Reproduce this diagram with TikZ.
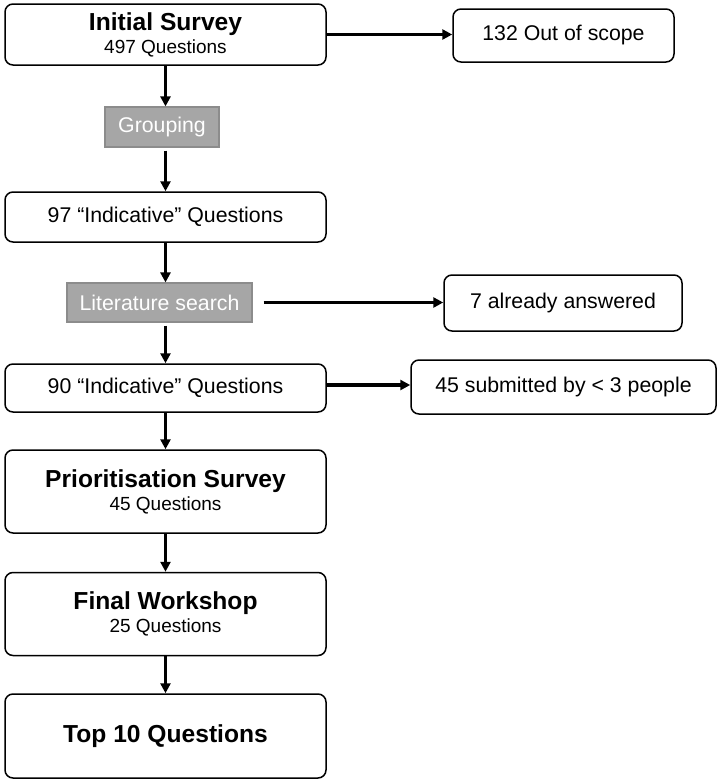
\documentclass[tikz,border=0pt]{standalone}
\usepackage{fontspec}
\setmainfont{Liberation Sans}
\usetikzlibrary{arrows.meta}
\definecolor{stepgrey}{RGB}{166,166,166}
\definecolor{stepedge}{RGB}{140,140,140}
\begin{document}
\begin{tikzpicture}[>={Triangle[length=10pt,width=10pt]},x=1pt,y=-1pt,
    stage/.style={draw,line width=1.5pt,rounded corners=8pt,minimum width=321pt,
        align=center,inner sep=0pt,font=\fontsize{19}{23}\selectfont},
    outbox/.style={draw,line width=1.5pt,rounded corners=8pt,inner sep=0pt,
        font=\fontsize{21.3}{24}\selectfont},
    action/.style={draw=stepedge,fill=stepgrey,line width=1.2pt,inner sep=0pt,
        text=white,font=\fontsize{21.3}{24}\selectfont},
    flow/.style={->,line width=3.2pt}]
    \useasboundingbox (0,0) rectangle (719,782);
    \node[stage,minimum height=61pt] (init) at (165.5,34.5)
        {{\fontsize{24.6}{26}\selectfont\bfseries Initial Survey}\\497 Questions};
    \node[outbox,minimum width=221pt,minimum height=53pt] (scope) at (563.5,35.5) {132 Out of scope};
    \node[action,minimum width=114pt,minimum height=40pt] (grp) at (162,127) {Grouping};
    \node[stage,minimum height=50pt,font=\fontsize{21.3}{24}\selectfont] (ind97) at (165.5,217)
        {97 “Indicative” Questions};
    \node[action,minimum width=185pt,minimum height=39pt] (lit) at (159.5,302.5) {Literature search};
    \node[outbox,minimum width=238pt,minimum height=56pt] (answered) at (563,303) {7 already answered};
    \node[stage,minimum height=48pt,font=\fontsize{21.3}{24}\selectfont] (ind90) at (165.5,388)
        {90 “Indicative” Questions};
    \node[outbox,minimum width=305pt,minimum height=54pt] (few) at (563.5,387) {45 submitted by < 3 people};
    \node[stage,minimum height=83pt] (prio) at (165.5,491.5)
        {{\fontsize{24.6}{26}\selectfont\bfseries Prioritisation Survey}\\45 Questions};
    \node[stage,minimum height=83pt] (final) at (165.5,614)
        {{\fontsize{24.6}{26}\selectfont\bfseries Final Workshop}\\25 Questions};
    \node[stage,minimum height=84pt] (top) at (165.5,736)
        {\fontsize{24.6}{26}\selectfont\bfseries Top 10 Questions};
    \draw[flow] (init.south) -- (init.south |- grp.north);
    \draw[flow,shorten <=3pt] (init |- grp.south) -- (ind97.north);
    \draw[flow] (ind97.south) -- (ind97 |- lit.north);
    \draw[flow,shorten <=3pt] (ind97 |- lit.south) -- (ind90.north);
    \draw[flow] (ind90.south) -- (prio.north);
    \draw[flow] (prio.south) -- (final.north);
    \draw[flow] (final.south) -- (top.north);
    \draw[flow] (init.east) -- (init.east -| scope.west);
    \draw[flow,shorten <=11pt] (lit.east) -- (lit.east -| answered.west);
    \draw[flow] ([yshift=3pt]ind90.east) -- ([yshift=3pt]ind90.east -| few.west);
\end{tikzpicture}
\end{document}
